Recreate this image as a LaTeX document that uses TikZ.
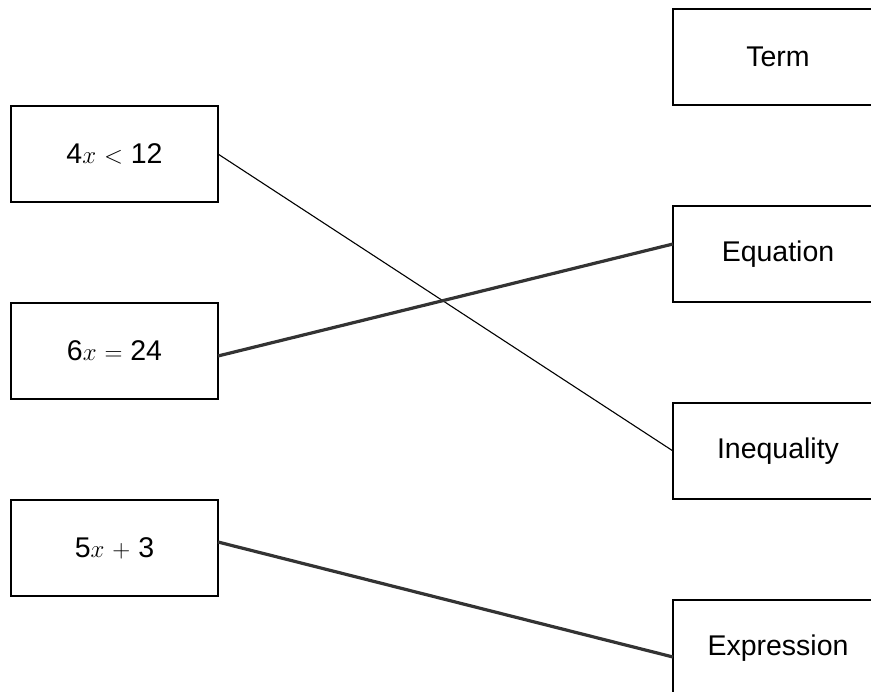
\documentclass[tikz,border=0pt]{standalone}
\usepackage{fontspec}
\setmainfont{Liberation Sans}
\usetikzlibrary{positioning}

\begin{document}
\begin{tikzpicture}[x=1pt, y=1pt, node distance={100pt},
    main/.style = {rectangle, draw, line width=1.6pt, minimum width=210pt, minimum height=96pt, outer sep=0pt, font=\fontsize{28.5}{34}\selectfont},
    link/.style = {line width=1.1pt},
    bold/.style = {line width=3.2pt, draw=black!80}]
    \useasboundingbox (0,0) rectangle (871,-692);
    \clip (0,0) rectangle (871,-692);
    \node[main, minimum width=207pt] (1) at (114.5,-154) {4$x$ $<$ 12};
    \node[main, minimum width=207pt] (2) [below=101pt of 1] {6$x$ $=$ 24};
    \node[main, minimum width=207pt] (3) [below=101pt of 2] {5$x$ $+$ 3};
    \node[main] (4) at (778,-57) {Term};
    \node[main] (5) [below=101pt of 4] {Equation};
    \node[main] (6) [below=101pt of 5] {Inequality};
    \node[main] (7) [below=101pt of 6] {Expression};
    \draw[link] (1.east) -- (6.west);
    \draw[bold] ([yshift=-5pt]2.east) -- ([yshift=10pt]5.west);
    \draw[bold] ([yshift=6pt]3.east) -- ([yshift=-9pt]7.west);
\end{tikzpicture}
\end{document}
